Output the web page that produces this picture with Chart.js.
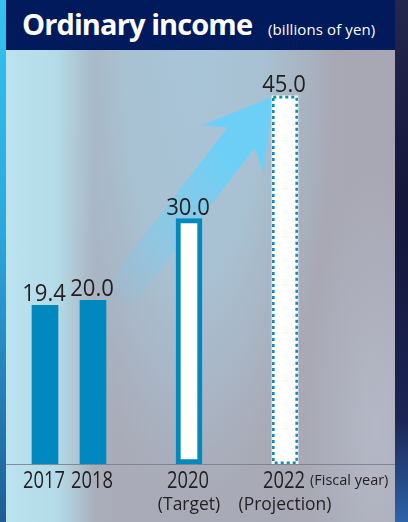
<!DOCTYPE html>
<html>
<head>
<meta charset="utf-8">
<script src="https://cdn.jsdelivr.net/npm/chart.js@4.4.1/dist/chart.umd.min.js"></script>
<style>
  html, body { margin: 0; padding: 0; }
  body {
    width: 408px; height: 522px; overflow: hidden; position: relative;
    background: linear-gradient(180deg, #24274d 0%, #14163a 40%, #1b2454 80%, #2d64a8 100%);
  }
  .edge {
    position: absolute; left: 0; top: 0; width: 6px; height: 522px;
    background: linear-gradient(180deg, #36c3ee 0%, #2aa7dc 45%, #2379b0 80%, #1f5d92 100%);
  }
  .panel {
    position: absolute; left: 6px; top: 0; width: 389px; height: 522px; overflow: hidden;
    background:
      linear-gradient(90deg, rgba(186,227,239,1) 0px, rgba(180,218,231,1) 52px, rgba(180,218,231,0) 88px),
      radial-gradient(ellipse 70px 260px at 370px 430px, rgba(190,196,212,0.55) 0%, rgba(190,196,212,0) 100%),
      radial-gradient(ellipse 140px 440px at 188px 60px, rgba(168,197,215,1) 0%, rgba(168,197,215,0.85) 50%, rgba(168,197,215,0) 100%),
      linear-gradient(90deg, #acbccb 0px, #a9abb8 110px, #a8a8b4 100%);
  }
  .head {
    position: absolute; left: 0; top: 0; width: 389px; height: 50px; z-index: 2;
    background: #001a5c; color: #fff;
  }
  .head .title {
    position: absolute; left: 16px; top: 4px;
    font: 700 29px "Open Sans", sans-serif; letter-spacing: -0.9px;
  }
  .head .unit {
    position: absolute; left: 262px; top: 19px;
    font: 400 15px "Open Sans", sans-serif; letter-spacing: 0.1px;
  }
  canvas { position: absolute; left: 0; top: 0; z-index: 1; }
</style>
</head>
<body>
<div class="edge"></div>
<div class="panel">
  <div class="head"><span class="title">Ordinary income</span><span class="unit">(billions of yen)</span></div>
  <canvas id="incomeChart" width="389" height="522"></canvas>
</div>
<script>
// fiscal years on a slot axis; empty slots keep the gaps between years
const years = ['2017', '2018', '', '2020', '', '2022'];
const income = [19.4, 20.0, null, 30.0, null, 45.0];
const notes = ['', '', '', '(Target)', '', '(Projection)'];
const unitNote = '(Fiscal year)';

const BLUE = '#0088bf';
const INK = '#231f20';
const FACE = '"Open Sans", sans-serif';

// text squeezed horizontally to get a condensed face
function narrowText(ctx, str, x, y, size, squeeze, align) {
  ctx.save();
  ctx.font = size + 'px ' + FACE;
  ctx.textAlign = align || 'center';
  ctx.translate(x, y);
  ctx.scale(squeeze, 1);
  ctx.fillText(str, 0, 0);
  const w = ctx.measureText(str).width * squeeze;
  ctx.restore();
  return w;
}

// rising arrow from the 2018 result up to the 2022 projection
const arrowPlugin = {
  id: 'arrow',
  beforeDatasetsDraw(chart) {
    const { ctx, scales: { x, y } } = chart;
    const sx = x.getPixelForValue(1) + 24, sy = y.getPixelForValue(20) - 2;
    const ex = x.getPixelForValue(5) - 12, ey = y.getPixelForValue(45) + 1;
    const ang = Math.atan2(ey - sy, ex - sx);
    const len = Math.hypot(ex - sx, ey - sy);
    const shaft = 34, headW = 78, headL = 66;
    ctx.save();
    ctx.translate(sx, sy);
    ctx.rotate(ang);
    const g = ctx.createLinearGradient(0, 0, len, 0);
    g.addColorStop(0, 'rgba(110,207,246,0.08)');
    g.addColorStop(0.4, 'rgba(110,207,246,0.55)');
    g.addColorStop(0.7, 'rgba(110,207,246,1)');
    g.addColorStop(1, 'rgba(110,207,246,1)');
    ctx.fillStyle = g;
    ctx.beginPath();
    ctx.moveTo(0, -shaft / 2);
    ctx.lineTo(len - headL + 14, -shaft / 2);
    ctx.lineTo(len - headL, -headW / 2);
    ctx.lineTo(len, 0);
    ctx.lineTo(len - headL, headW / 2);
    ctx.lineTo(len - headL + 14, shaft / 2);
    ctx.lineTo(0, shaft / 2);
    ctx.closePath();
    ctx.fill();
    ctx.restore();
  }
};

// dotted outline, value labels, baseline and year labels
const labelPlugin = {
  id: 'labels',
  afterDatasetsDraw(chart) {
    const { ctx, scales: { x } } = chart;
    const meta = chart.getDatasetMeta(0);
    ctx.save();

    // dotted outline of the projected bar
    const p = meta.data[5].getProps(['x', 'y', 'base', 'width'], true);
    const lw = 2.6;
    ctx.strokeStyle = '#0b8cc2';
    ctx.lineWidth = lw;
    ctx.setLineDash([3, 3]);
    ctx.strokeRect(p.x - p.width / 2 + lw / 2, p.y + lw / 2, p.width - lw, p.base - p.y - lw);
    ctx.setLineDash([]);

    // baseline across the panel
    const base = meta.data[0].getProps(['base'], true).base;
    ctx.strokeStyle = 'rgba(125,125,135,0.85)';
    ctx.lineWidth = 1;
    ctx.beginPath();
    ctx.moveTo(0, Math.round(base) + 0.5);
    ctx.lineTo(chart.width, Math.round(base) + 0.5);
    ctx.stroke();

    ctx.fillStyle = INK;
    ctx.textBaseline = 'alphabetic';
    income.forEach((v, i) => {
      if (v === null) return;
      const bar = meta.data[i].getProps(['x', 'y'], true);
      narrowText(ctx, v.toFixed(1), bar.x - 1, bar.y - 4, 24, 0.92);
    });

    years.forEach((yr, i) => {
      if (!yr) return;
      const cx = x.getPixelForValue(i);
      const w = narrowText(ctx, yr, cx - 1, base + 24, 23.5, 0.78);
      if (notes[i]) narrowText(ctx, notes[i], cx, base + 46, 18, 0.97);
      if (i === years.length - 1) narrowText(ctx, unitNote, cx + w / 2 + 4, base + 21, 14.5, 1, 'left');
    });
    ctx.restore();
  }
};

new Chart(document.getElementById('incomeChart'), {
  type: 'bar',
  data: {
    labels: years,
    datasets: [{
      data: income,
      backgroundColor: [BLUE, BLUE, BLUE, '#ffffff', BLUE, '#ffffff'],
      borderColor: BLUE,
      borderWidth: [0, 0, 0, 5, 0, 0],
      borderSkipped: false,
      barThickness: 26
    }]
  },
  options: {
    responsive: false,
    animation: false,
    layout: { padding: { left: 15, right: 86, top: 14, bottom: 58 } },
    plugins: { legend: { display: false }, tooltip: { enabled: false } },
    scales: {
      x: { display: false },
      y: { display: false, min: 0, max: 55 }
    }
  },
  plugins: [arrowPlugin, labelPlugin]
});
</script>
</body>
</html>
